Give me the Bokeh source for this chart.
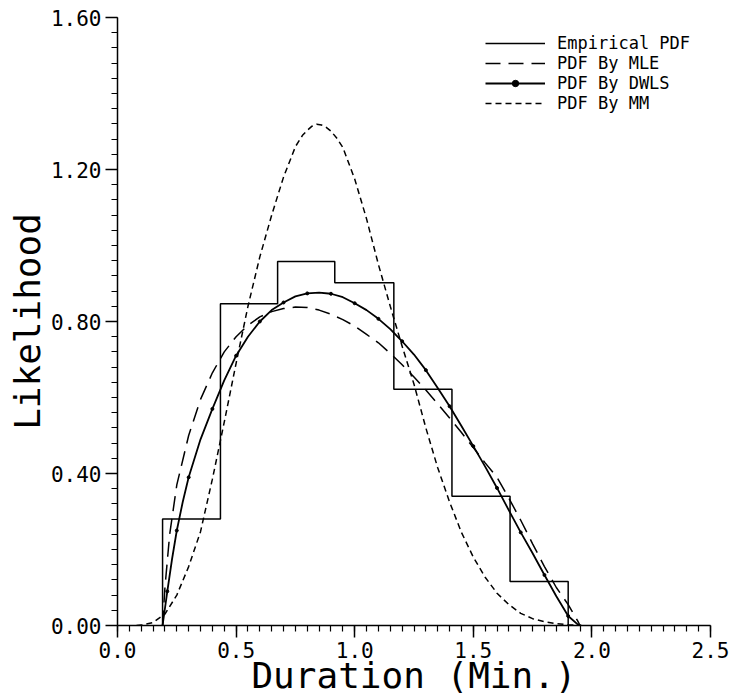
from bokeh.plotting import figure
from bokeh.models import Range1d, FixedTicker, Legend, LegendItem
from bokeh.embed import file_html
from bokeh.resources import INLINE

# ---- data ----
hist_edges = [0.190, 0.434, 0.675, 0.916, 1.165, 1.410, 1.655, 1.900]
hist_density = [0.280, 0.847, 0.958, 0.902, 0.622, 0.340, 0.116]

mle_x = [0.19, 0.20, 0.22, 0.25, 0.30, 0.35, 0.40, 0.45, 0.50, 0.55, 0.60, 0.65,
         0.70, 0.75, 0.80, 0.85, 0.90, 0.95, 1.00, 1.05, 1.10, 1.15, 1.20, 1.25,
         1.30, 1.35, 1.40, 1.45, 1.50, 1.55, 1.60, 1.65, 1.70, 1.75, 1.80, 1.85,
         1.90, 1.94, 1.95]
mle_y = [0.0, 0.10, 0.24, 0.37, 0.50, 0.595, 0.665, 0.72, 0.76, 0.79, 0.812, 0.826,
         0.834, 0.838, 0.837, 0.83, 0.819, 0.805, 0.788, 0.766, 0.744, 0.716, 0.686, 0.654,
         0.62, 0.583, 0.546, 0.508, 0.468, 0.428, 0.39, 0.335, 0.277, 0.215, 0.155, 0.10,
         0.055, 0.012, 0.0]

dwls_x = [0.19, 0.21, 0.23, 0.25, 0.275, 0.30, 0.35, 0.40, 0.45, 0.50, 0.55, 0.60,
          0.65, 0.70, 0.75, 0.80, 0.85, 0.90, 0.95, 1.00, 1.05, 1.10, 1.15, 1.20,
          1.25, 1.30, 1.35, 1.40, 1.45, 1.50, 1.55, 1.60, 1.65, 1.70, 1.75, 1.80,
          1.85, 1.90, 1.94, 1.955]
dwls_y = [0.0, 0.09, 0.175, 0.25, 0.325, 0.39, 0.49, 0.57, 0.645, 0.71, 0.76, 0.80,
          0.83, 0.85, 0.866, 0.874, 0.876, 0.873, 0.864, 0.848, 0.83, 0.807, 0.78, 0.748,
          0.713, 0.672, 0.625, 0.577, 0.525, 0.472, 0.418, 0.362, 0.303, 0.245, 0.19, 0.133,
          0.077, 0.025, 0.003, 0.0]

mm_x = [0.08, 0.10, 0.15, 0.20, 0.25, 0.30, 0.35, 0.40, 0.45, 0.50, 0.55, 0.60,
        0.65, 0.70, 0.75, 0.78, 0.80, 0.82, 0.84, 0.86, 0.88, 0.90, 0.925, 0.95,
        1.00, 1.05, 1.10, 1.15, 1.20, 1.25, 1.30, 1.35, 1.40, 1.45, 1.50, 1.55,
        1.60, 1.65, 1.70, 1.75, 1.80, 1.85, 1.90, 1.95]
mm_y = [0.0, 0.001, 0.008, 0.03, 0.08, 0.155, 0.247, 0.385, 0.535, 0.69, 0.84, 0.97,
        1.08, 1.18, 1.26, 1.29, 1.303, 1.314, 1.319, 1.317, 1.311, 1.301, 1.282, 1.258,
        1.175, 1.07, 0.95, 0.84, 0.735, 0.635, 0.52, 0.415, 0.325, 0.245, 0.18, 0.127,
        0.085, 0.055, 0.032, 0.018, 0.01, 0.005, 0.002, 0.0]

x_ticks = [0.0, 0.5, 1.0, 1.5, 2.0, 2.5]
x_tick_labels = ["0.0", "0.5", "1.0", "1.5", "2.0", "2.5"]
y_ticks = [0.0, 0.4, 0.8, 1.2, 1.6]
y_tick_labels = ["0.00", "0.40", "0.80", "1.20", "1.60"]
x_minor = [round(i * 0.05, 2) for i in range(51)]
y_minor = [round(i * 0.04, 2) for i in range(41)]

FONT = "DejaVu Sans Mono"

p = figure(width=752, height=698, x_range=Range1d(0, 2.5), y_range=Range1d(0, 1.6),
           output_backend="svg", toolbar_location=None,
           min_border_left=117, min_border_right=42, min_border_top=17, min_border_bottom=73)
p.grid.visible = False
p.outline_line_color = None
p.background_fill_color = "white"

# empirical histogram as a step outline
step_x = [hist_edges[0]] + hist_edges
step_y = [0.0] + hist_density + [0.0]
r_emp = p.step(step_x, step_y, mode="after", line_color="black", line_width=1.5)

r_mle = p.line(mle_x, mle_y, line_color="black", line_width=1.5, line_dash="15 8")
r_dwls = p.line(dwls_x, dwls_y, line_color="black", line_width=1.8)
r_dwls_pts = p.scatter(dwls_x[1:-1:2], dwls_y[1:-1:2], size=3, color="black")
r_mm = p.line(mm_x, mm_y, line_color="black", line_width=1.5, line_dash="6 4")

for ax in (p.xaxis[0], p.yaxis[0]):
    ax.axis_line_width = 1.5
    ax.axis_line_color = "black"
    ax.major_tick_line_width = 1.5
    ax.minor_tick_line_width = 1.2
    ax.major_tick_in = 0
    ax.major_tick_out = 12
    ax.minor_tick_in = 0
    ax.minor_tick_out = 6
    ax.major_label_text_font = FONT
    ax.major_label_text_color = "black"
    ax.axis_label_text_font = FONT
    ax.axis_label_text_font_style = "normal"
    ax.axis_label_text_color = "black"

p.xaxis.ticker = FixedTicker(ticks=x_ticks, minor_ticks=x_minor)
p.yaxis.ticker = FixedTicker(ticks=y_ticks, minor_ticks=y_minor)
p.xaxis.major_label_overrides = dict(zip(x_ticks, x_tick_labels))
p.yaxis.major_label_overrides = dict(zip(y_ticks, y_tick_labels))
p.xaxis.major_label_text_font_size = "21px"
p.yaxis.major_label_text_font_size = "21px"
p.xaxis.major_label_standoff = 4
p.yaxis.major_label_standoff = 4

p.xaxis.axis_label = "Duration (Min.)"
p.yaxis.axis_label = "Likelihood"
p.xaxis.axis_label_text_font_size = "36px"
p.yaxis.axis_label_text_font_size = "36px"
p.xaxis.axis_label_standoff = -6
p.yaxis.axis_label_standoff = 0

legend = Legend(items=[
    LegendItem(label="Empirical PDF", renderers=[r_emp]),
    LegendItem(label="PDF By MLE", renderers=[r_mle]),
    LegendItem(label="PDF By DWLS", renderers=[r_dwls, r_dwls_pts]),
    LegendItem(label="PDF By MM", renderers=[r_mm]),
], location=(368, 512))
legend.label_text_font = FONT
legend.label_text_font_size = "17px"
legend.label_text_color = "black"
legend.glyph_width = 60
legend.glyph_height = 16
legend.label_height = 16
legend.label_standoff = 12
legend.spacing = 0
legend.padding = 0
legend.margin = 0
legend.border_line_color = None
legend.background_fill_alpha = 0
p.add_layout(legend, "center")

open("out.html", "w").write(file_html(p, INLINE))
